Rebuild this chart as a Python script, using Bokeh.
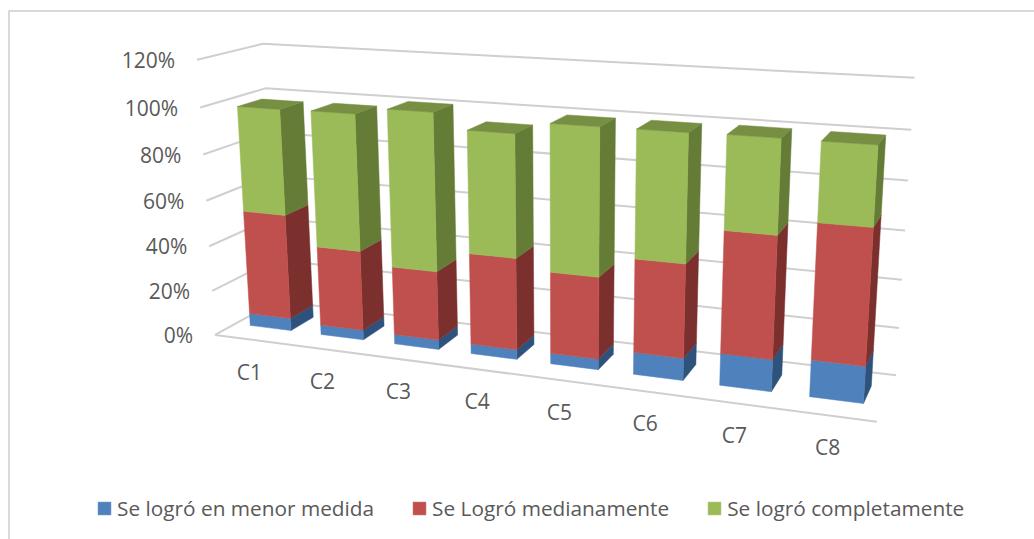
import numpy as np
from bokeh.plotting import figure
from bokeh.models import Legend, LegendItem
from bokeh.core.properties import value
from bokeh.embed import file_html
from bokeh.resources import INLINE

categories = ["C1", "C2", "C3", "C4", "C5", "C6", "C7", "C8"]
menor = [5.6, 4.3, 4.2, 4.2, 4.5, 9.3, 13.2, 15.0]
medianamente = [46.5, 35.2, 29.9, 39.2, 34.6, 38.9, 49.8, 54.3]
completamente = [46.0, 58.9, 67.2, 51.5, 60.9, 51.9, 37.4, 31.0]
series_names = ["Se logró en menor medida", "Se Logró medianamente", "Se logró completamente"]
ticks = [0, 20, 40, 60, 80, 100, 120]
tick_labels = ["0%", "20%", "40%", "60%", "80%", "100%", "120%"]

FRONT = ["#4f81bd", "#c0504d", "#9bbb59"]
SIDE = ["#2f527c", "#7b302e", "#657c37"]
TOP = "#778f43"
GRID = "#cfcfcf"
TEXT = "#595959"
FONT = "Open Sans"

GAP, D0, D1 = 0.21, 0.32, 0.70

# camera calibration of the 3-D box: (slot, depth, value %) -> page pixel
corners_box = [
    (0, 0, 0, 215, 334), (0, 0, 120, 197, 59),
    (0, 1, 0, 277, 300), (0, 1, 120, 262, 43),
    (8, 1, 0, 896, 374), (8, 1, 120, 914, 78),
    (8, 0, 0, 877, 421),
]
calib = corners_box * 3
base_front = [(0, 249, 325, 290, 330), (1, 320, 334, 362, 340), (2, 394, 344, 438, 349), (3, 471, 353, 516, 359),
              (4, 550, 364, 598, 369), (5, 633, 374, 682, 380), (6, 719, 385, 770, 391), (7, 809, 396, 862, 403)]
for i, xl, yl, xr, yr in base_front:
    calib.append((i + GAP, D0, 0, xl, yl))
    calib.append((i + 1 - GAP, D0, 0, xr, yr))
base_back = [(0, 312, 317), (1, 383, 327), (2, 457, 337), (5, 695, 364), (6, 781, 374), (7, 871, 385)]
for i, xr, yr in base_back:
    calib.append((i + 1 - GAP, D1, 0, xr, yr))


def fit_camera(points):
    rows = []
    for X, Y, Z, u, v in points:
        h = [X / 8, Y, Z / 100, 1]
        un, vn = (u - 500) / 500, (v - 250) / 500
        rows.append(h + [0, 0, 0, 0] + [-un * c for c in h])
        rows.append([0, 0, 0, 0] + h + [-vn * c for c in h])
    _, _, vt = np.linalg.svd(np.array(rows, dtype=float))
    return vt[-1].reshape(3, 4)


CAM = fit_camera(calib)


def project(slot, depth, val):
    h = CAM @ np.array([slot / 8, depth, val / 100, 1.0])
    return float(h[0] / h[2] * 500 + 500), float(h[1] / h[2] * 500 + 250)


def poly(corners):
    pts = [project(*c) for c in corners]
    return [p[0] for p in pts], [p[1] for p in pts]


p = figure(width=1034, height=539, x_range=(0, 1034), y_range=(539, 0), output_backend="svg",
           toolbar_location=None, min_border=0, outline_line_color=None, background_fill_color="white")
p.axis.visible = False
p.grid.visible = False

# chart frame
p.segment([8.5, 8], [10.5, 10.5], [8.5, 1034], [539, 10.5], line_color="#d9d9d9", line_width=2)

# walls and floor
for t in ticks:
    a, b, c = project(0, 0, t), project(0, 1, t), project(8, 1, t)
    p.line([a[0], b[0], c[0]], [a[1], b[1], c[1]], line_color=GRID, line_width=2)
a, b = project(0, 0, 0), project(8, 0, 0)
p.line([a[0], b[0]], [a[1], b[1]], line_color=GRID, line_width=2)

stacks = [menor, medianamente, completamente]
front_renderers = []
for s, vals in enumerate(stacks):
    fx, fy, sx, sy = [], [], [], []
    for i in range(len(categories)):
        lo = sum(stacks[k][i] for k in range(s))
        hi = lo + vals[i]
        l, r = i + GAP, i + 1 - GAP
        x, y = poly([(l, D0, lo), (r, D0, lo), (r, D0, hi), (l, D0, hi)])
        fx.append(x); fy.append(y)
        x, y = poly([(r, D0, lo), (r, D1, lo), (r, D1, hi), (r, D0, hi)])
        sx.append(x); sy.append(y)
    p.patches(sx, sy, fill_color=SIDE[s], line_color=SIDE[s], line_width=0.5)
    front_renderers.append(p.patches(fx, fy, fill_color=FRONT[s], line_color=FRONT[s], line_width=0.5))

tx, ty = [], []
for i in range(len(categories)):
    hi = sum(st[i] for st in stacks)
    l, r = i + GAP, i + 1 - GAP
    x, y = poly([(l, D0, hi), (r, D0, hi), (r, D1, hi), (l, D1, hi)])
    tx.append(x); ty.append(y)
p.patches(tx, ty, fill_color=TOP, line_color=TOP, line_width=0.5)

# value labels along the left wall
lx = [project(0, 0, t)[0] - 22 for t in ticks]
ly = [project(0, 0, t)[1] for t in ticks]
p.text(lx, ly, text=tick_labels, text_align="right", text_baseline="middle", text_color=TEXT,
       text_font=value(FONT), text_font_size="21px")

# category labels under the floor
cx, cy = [], []
for i in range(len(categories)):
    q = project(i + 0.5, 0, 0)
    cx.append(q[0] - 1)
    cy.append(q[1] + 32)
p.text(cx, cy, text=categories, text_align="center", text_baseline="middle", text_color=TEXT,
       text_font=value(FONT), text_font_size="21px")

legend = Legend(items=[LegendItem(label=n, renderers=[r]) for n, r in zip(series_names, front_renderers)],
                orientation="horizontal", location=(96, 17), glyph_width=16, glyph_height=16,
                label_standoff=5, spacing=37, padding=0, margin=0, border_line_color=None,
                background_fill_alpha=0, label_text_font=FONT, label_text_font_size="20.8px",
                label_text_color=TEXT, label_height=20)
p.add_layout(legend, "center")

open("out.html", "w").write(file_html(p, INLINE))
